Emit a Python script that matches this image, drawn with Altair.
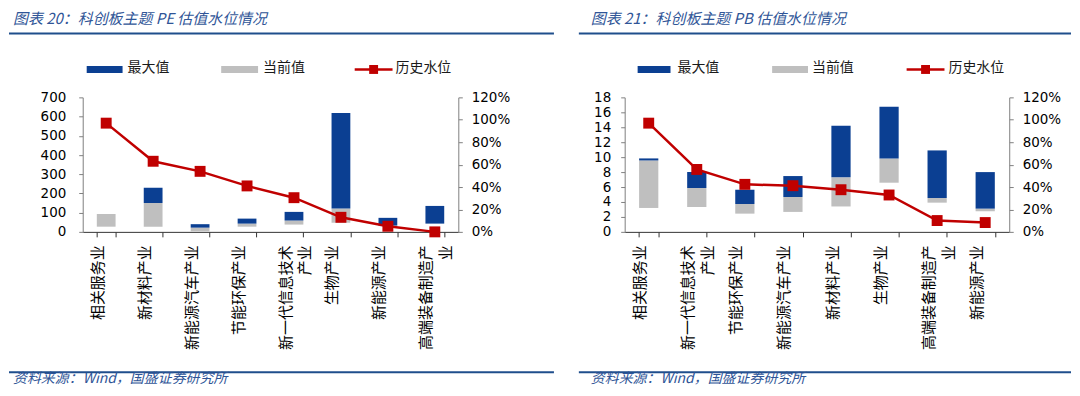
import altair as alt
import pandas as pd

# ---------------- data ----------------
cats_pe = ["相关服务业", "新材料产业", "新能源汽车产业", "节能环保产业",
           "新一代信息技术产业", "生物产业", "新能源产业", "高端装备制造产业"]
pe_min = [27, 27, 2, 27, 38, 48, 30, 43]
pe_cur = [93, 150, 22, 43, 59, 121, 33, 43]
pe_max = [93, 230, 40, 69, 104, 619, 73, 135]
pe_pct = [97, 63, 54, 41, 30.5, 13, 5, 0]

cats_pb = ["相关服务业", "新一代信息技术产业", "节能环保产业", "新能源汽车产业",
           "新材料产业", "生物产业", "高端装备制造产业", "新能源产业"]
pb_min = [3.2, 3.33, 2.44, 2.67, 3.4, 6.58, 3.91, 2.76]
pb_cur = [9.56, 5.87, 3.73, 4.67, 7.3, 9.82, 4.53, 3.11]
pb_max = [9.83, 8.0, 5.64, 7.47, 14.2, 16.76, 10.9, 8.0]
pb_pct = [97, 55.7, 42.4, 41.2, 37.6, 32.9, 10.1, 8.3]

legend_names = ["最大值", "当前值", "历史水位"]
titles = ["图表 20：科创板主题 PE 估值水位情况", "图表 21：科创板主题 PB 估值水位情况"]
source_text = "资料来源：Wind，国盛证券研究所"

# ---------------- styles ----------------
BLUE = "#0B3F92"
GREY = "#BFBFBF"
RED = "#C00000"
TBLUE = "#2F5597"
LBLUE = "#1F4E8C"
CJK = "Noto Sans CJK SC"
NUM = "DejaVu Sans"
PH = 135


def deco_src():
    return alt.Chart(pd.DataFrame({"z": [0]}))


def panel(cats, vmin, vcur, vmax, pct, ymax, ystep, width, title,
          left_edge, right_edge, title_x, leg, lpad):
    df = pd.DataFrame({"cat": cats, "lo": vmin, "cur": vcur, "hi": vmax, "pct": pct})
    base = alt.Chart(df)
    xenc = alt.X(
        "cat:N", sort=cats, title=None,
        scale=alt.Scale(paddingInner=0.6, paddingOuter=0.3),
        axis=alt.Axis(
            labelAngle=270, labelAlign="right", labelBaseline="middle",
            labelFont=CJK, labelFontSize=15, labelLineHeight=20,
            labelExpr="length(datum.label) > 7 ? [substring(datum.label,0,7), substring(datum.label,7)] : datum.label",
            labelPadding=8, labelOffset=-9,
            tickBand="extent", tickSize=5,
            domainColor="#333333", tickColor="#333333", labelLimit=0,
            labelColor="#000000"),
    )
    yaxis = alt.Axis(values=list(range(0, ymax + 1, ystep)), title=None, grid=False,
                     labelFont=NUM, labelFontSize=13.5, labelColor="#000000",
                     domainColor="#7F7F7F", tickColor="#7F7F7F", tickSize=4,
                     labelPadding=lpad)
    yscale = alt.Scale(domain=[0, ymax], nice=False)
    grey = base.mark_bar(color=GREY).encode(
        x=xenc, y=alt.Y("lo:Q", scale=yscale, axis=yaxis), y2="cur:Q")
    blue = base.mark_bar(color=BLUE).encode(
        x=xenc, y=alt.Y("cur:Q", scale=yscale, axis=yaxis), y2="hi:Q")

    raxis = alt.Axis(orient="right", values=list(range(0, 121, 20)), title=None, grid=False,
                     labelExpr="datum.value + '%'", labelFont=NUM, labelFontSize=13.5,
                     labelColor="#000000", domainColor="#7F7F7F", tickColor="#7F7F7F",
                     tickSize=4, labelPadding=9)
    rscale = alt.Scale(domain=[0, 120], nice=False)
    line = base.mark_line(color=RED, strokeWidth=2.5).encode(
        x=xenc, y=alt.Y("pct:Q", scale=rscale, axis=raxis))
    pts = base.mark_square(color=RED, size=120, opacity=1).encode(
        x=xenc, y=alt.Y("pct:Q", scale=rscale, axis=raxis))

    decos = []
    # white spacer that reserves head-room above the title
    decos.append(deco_src().mark_rule(color="white", strokeWidth=1).encode(
        x=alt.value(left_edge), x2=alt.value(left_edge + 4), y=alt.value(-88)))
    # title
    decos.append(deco_src().mark_text(align="left", baseline="middle", font=CJK, fontSize=15,
                                      fontStyle="italic", color=TBLUE).encode(
        x=alt.value(title_x), y=alt.value(-79), text=alt.value(title)))
    # top rule
    decos.append(deco_src().mark_rule(color=LBLUE, strokeWidth=2).encode(
        x=alt.value(left_edge), x2=alt.value(right_edge), y=alt.value(-64)))
    # bottom rule
    decos.append(deco_src().mark_rule(color=LBLUE, strokeWidth=2).encode(
        x=alt.value(left_edge), x2=alt.value(right_edge), y=alt.value(276)))
    # source
    decos.append(deco_src().mark_text(align="left", baseline="bottom", font=CJK, fontSize=14,
                                      fontStyle="italic", color=TBLUE).encode(
        x=alt.value(title_x), y=alt.value(290), text=alt.value(source_text)))
    # legend
    (b0, b1, bt), (g0, g1, gt), (r0, r1, rt) = leg
    ly = -28
    decos.append(deco_src().mark_rule(color=BLUE, strokeWidth=7).encode(
        x=alt.value(b0), x2=alt.value(b1), y=alt.value(ly)))
    decos.append(deco_src().mark_rule(color=GREY, strokeWidth=7).encode(
        x=alt.value(g0), x2=alt.value(g1), y=alt.value(ly)))
    decos.append(deco_src().mark_rule(color=RED, strokeWidth=2.5).encode(
        x=alt.value(r0), x2=alt.value(r1), y=alt.value(ly)))
    decos.append(deco_src().mark_square(color=RED, size=80, opacity=1).encode(
        x=alt.value((r0 + r1) / 2), y=alt.value(ly)))
    for tx, name in zip((bt, gt, rt), legend_names):
        decos.append(deco_src().mark_text(align="left", baseline="middle", font=CJK,
                                          fontSize=14, color="#1A1A1A").encode(
            x=alt.value(tx), y=alt.value(ly - 1), text=alt.value(name)))

    ch = alt.layer(alt.layer(grey, blue), alt.layer(line, pts), *decos).resolve_scale(
        y="independent").properties(width=width, height=PH)
    return ch


pe = panel(cats_pe, pe_min, pe_cur, pe_max, pe_pct, 700, 100, 377, titles[0],
           -74, 473, -70, [(4, 40, 45), (139, 176, 181), (273, 311, 314)], 13)
pb = panel(cats_pb, pb_min, pb_cur, pb_max, pb_pct, 18, 2, 386, titles[1],
           -46, 448, -34, [(13, 46, 53), (148, 184, 188), (283, 321, 325)], 10)

chart = alt.hconcat(pe, pb, spacing=23).properties(padding=0, background="white").configure_view(
    stroke=None)

chart.save("out.html", embed_options={"renderer": "svg", "actions": False})
